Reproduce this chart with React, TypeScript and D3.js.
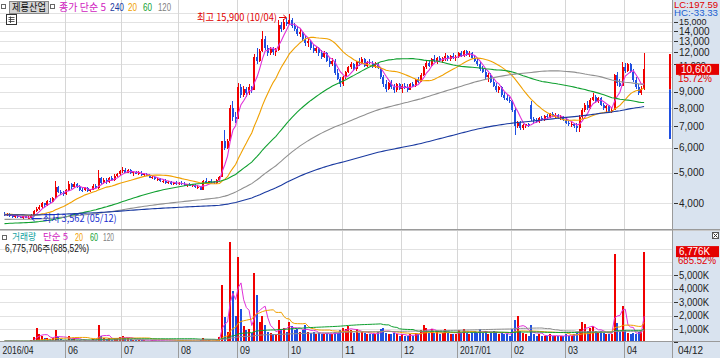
import React from "react";
import * as d3 from "d3";

type Bar = [number, number, number, number, number]; // open, high, low, close, volume (K shares)

const apr2016: Bar[] = [
  [3700,3750,3650,3680,120],[3680,3720,3640,3700,90],[3700,3720,3620,3650,80],
];
const may2016: Bar[] = [
  [3650,3700,3600,3620,70],[3620,3680,3600,3660,60],[3660,3690,3610,3630,80],[3630,3660,3590,3610,60],
  [3610,3650,3580,3640,70],[3640,3660,3590,3600,60],[3600,3640,3562,3610,90],[3610,3700,3600,3690,150],
  [3690,3800,3680,3780,400],[3780,3900,3750,3850,1100],[3850,3950,3800,3900,600],[3900,4050,3880,4000,500],
  [4000,4020,3900,3950,300],[3950,4100,3930,4080,350],[4080,4150,4000,4050,250],[4050,4200,4030,4150,300],
  [4150,4720,4150,4500,900],[4500,4550,4300,4350,400],[4350,4400,4250,4300,250],[4300,4380,4220,4280,200],
];
const jun2016: Bar[] = [
  [4280,4450,4250,4400,200],[4400,4700,4380,4600,500],[4600,4650,4450,4500,250],[4500,4680,4480,4620,300],
  [4620,4650,4480,4520,200],[4520,4560,4380,4420,150],[4420,4480,4350,4400,120],[4400,4500,4380,4480,150],
  [4480,4500,4350,4380,130],[4380,4450,4340,4420,120],[4420,4600,4400,4550,250],[4550,4620,4450,4480,200],
  [4480,5100,4450,4800,1300],[4800,4850,4600,4650,500],[4650,4800,4620,4750,300],[4750,4800,4620,4680,250],
  [4680,4850,4650,4800,300],[4800,4880,4700,4750,200],[4750,4950,4720,4900,350],[4900,5000,4850,4950,300],
  [4950,5100,4900,5050,400],
];
const jul2016: Bar[] = [
  [5050,5200,5000,5100,500],[5100,5180,4980,5000,300],[5000,5150,4980,5100,350],[5100,5120,4950,4980,250],
  [4980,5050,4900,5020,200],[5020,5080,4950,4960,180],[4960,5050,4930,5000,200],[5000,5060,4900,4920,150],
  [4920,4980,4850,4950,160],[4950,5000,4880,4900,140],[4900,4950,4800,4820,130],[4820,4900,4780,4850,150],
  [4850,4880,4750,4770,120],[4770,4820,4700,4780,130],[4780,4800,4680,4700,110],[4700,4780,4650,4720,120],
  [4720,4760,4620,4650,100],[4650,4720,4600,4680,130],[4680,4700,4580,4620,110],[4620,4680,4580,4650,100],
  [4650,4700,4560,4600,120],
];
const aug2016: Bar[] = [
  [4600,4680,4570,4640,100],[4640,4700,4580,4600,110],[4600,4660,4540,4560,90],[4560,4620,4520,4600,100],
  [4600,4640,4530,4550,90],[4550,4620,4500,4580,100],[4580,4600,4480,4500,80],[4500,4560,4450,4520,90],
  [4520,4540,4400,4420,150],[4420,4750,4420,4700,300],[4700,4800,4620,4650,200],[4650,4720,4600,4700,150],
  [4700,4760,4640,4680,130],[4680,4720,4600,4640,120],[4640,4780,4620,4750,200],[4750,4900,4700,4850,400],
  [4850,6300,4850,6300,4300],[6300,6800,5900,6000,1900],[6000,6400,5950,6300,800],[6300,8190,6300,8000,7500],
  [8000,8400,7300,7500,3800],[7500,7800,7200,7400,2000],
];
const sep2016: Bar[] = [
  [7400,9600,7400,9300,6400],[9300,9500,8600,8800,2500],[8800,9400,8700,9200,1200],[9200,9300,8700,8900,900],
  [8900,9500,8800,9300,1000],[9300,9400,8900,9100,700],[9100,11830,9100,11600,5150],[11600,12400,11000,11300,3540],
  [11300,12300,11200,12100,1500],[12100,14000,12000,13200,2000],[13200,13500,12200,12400,1300],[12400,12700,11700,11900,800],
  [11900,12500,11800,12300,700],[12300,12500,11800,12000,600],[12000,12400,11700,12200,600],[12200,15200,12100,14600,1700],
  [14600,15000,13900,14200,1000],[14200,15300,14100,15000,1100],[15000,15400,14500,14700,800],
];
const oct2016: Bar[] = [
  [14700,15900,14600,15200,1500],[15200,15400,14300,14500,1200],[14500,14900,14000,14200,900],[14200,14500,13500,13700,1000],
  [13700,14200,13400,13900,800],[13900,14000,13000,13200,900],[13200,13500,12600,12800,1300],[12800,13300,12500,13000,800],
  [13000,13100,12200,12400,700],[12400,12700,11900,12100,800],[12100,12600,11900,12400,650],[12400,12500,11700,11900,700],
  [11900,12200,11400,11600,600],[11600,12100,11500,11900,650],[11900,12000,11200,11300,700],[11300,11600,10800,11000,600],
  [11000,11500,10900,11300,650],[11300,11400,10200,10300,750],[10300,10600,9800,9900,700],[9900,10000,9300,9500,900],
];
const nov2016: Bar[] = [
  [9500,10100,9400,10000,1100],[10000,10500,9900,10400,1000],[10400,10900,10300,10800,1200],[10800,11200,10600,11000,900],
  [11000,11100,10500,10600,700],[10600,11300,10500,11200,1000],[11200,11500,10900,11100,700],[11100,11600,11000,11400,800],
  [11400,11500,10800,10900,700],[10900,11300,10800,11200,650],[11200,11400,11000,11100,600],[11100,11300,10700,10800,650],
  [10800,11200,10700,11000,600],[11000,11100,10600,10700,800],[10700,10800,9900,10000,1000],[10000,10200,9300,9500,1100],
  [9500,9800,9000,9200,700],[9200,9700,9100,9600,650],[9600,9800,9200,9300,600],[9300,9500,8900,9100,700],
  [9100,9600,9000,9500,600],[9500,9600,9100,9200,500],
];
const dec2016: Bar[] = [
  [9200,9500,8900,9400,600],[9400,9600,9200,9300,500],[9300,9500,9000,9100,450],[9100,9600,9100,9500,600],
  [9500,9700,9300,9400,500],[9400,9900,9300,9800,700],[9800,10000,9600,9700,600],[9700,10300,9700,10200,900],
  [10200,10900,10100,10800,1300],[10800,11300,10600,11100,1100],[11100,11300,10800,10900,700],[10900,11500,10800,11400,1000],
  [11400,11800,11200,11300,700],[11300,11600,11000,11500,850],[11500,11700,11200,11300,650],[11300,11600,11100,11500,700],
  [11500,11900,11300,11700,1000],[11700,11800,11300,11400,700],[11400,11800,11300,11700,650],[11700,11900,11400,11500,600],
  [11500,11800,11300,11600,650],
];
const jan2017: Bar[] = [
  [11600,12000,11500,11900,900],[11900,12100,11600,11700,700],[11700,12200,11600,12100,1000],[12100,12200,11700,11800,700],
  [11800,12100,11600,11900,650],[11900,12000,11400,11500,700],[11500,11800,11200,11300,850],[11300,11500,10900,11000,700],
  [11000,11200,10500,10600,1000],[10600,10900,10300,10400,700],[10400,10600,9900,10000,850],[10000,10300,9700,10200,650],
  [10200,10300,9600,9700,700],[9700,9900,9300,9400,850],[9400,9600,9000,9100,800],[9100,9400,8900,9300,600],
  [9300,9400,8700,8800,700],[8800,9000,8500,8600,650],[8600,8800,8400,8500,600],[8500,8700,8300,8400,500],
];
const feb2017: Bar[] = [
  [8400,8500,7800,7900,1000],[7900,8000,6600,7000,1700],[7000,7300,6900,7200,2000],[7200,7300,6800,6900,850],
  [6900,7100,6800,7050,700],[7050,7150,6900,7100,600],[7100,7200,6950,7000,500],[8200,8400,7300,7400,1300],
  [7400,7500,7150,7350,600],[7350,7450,7200,7250,500],[7250,7500,7200,7450,600],[7450,7550,7300,7350,450],
  [7350,7600,7300,7550,500],[7550,7650,7400,7500,450],[7500,7700,7450,7650,600],[7650,7750,7500,7550,450],
  [7550,7700,7450,7600,500],[7600,7650,7400,7450,450],[7450,7600,7350,7500,450],[7500,7550,7300,7350,500],
];
const mar2017: Bar[] = [
  [7350,7450,7100,7200,600],[7200,7300,7000,7100,500],[7100,7250,6950,7150,450],[7150,7200,6900,7000,600],
  [7000,7200,6700,6900,700],[6900,7600,6700,7500,1000],[7500,8000,7400,7900,1500],[7900,8300,7800,8200,1400],
  [8200,8400,7900,8000,850],[8000,8600,7950,8500,1100],[8500,8900,8400,8700,1200],[8700,8800,8300,8400,850],
  [8400,8700,8300,8600,700],[8600,8700,8100,8200,850],[8200,8300,7900,8000,700],[8000,8200,7800,8100,600],
  [8100,8200,7750,7800,650],[7800,8000,7700,7900,600],[7900,10270,7900,10200,6570],[10200,10400,9400,9600,1430],
  [9600,9900,9300,9400,800],[9400,11200,9400,10800,2700],
];
const apr2017: Bar[] = [
  [10800,11100,10300,10500,900],[10500,11100,10400,11000,700],[11000,11100,10300,10400,600],[10400,10600,9700,9800,700],
  [9800,10000,9200,9300,600],[9300,9500,8800,8900,800],[8900,9400,8800,9160,863],[9200,11900,9100,10600,6776],
];

const months: Bar[][] = [apr2016, may2016, jun2016, jul2016, aug2016, sep2016, oct2016, nov2016, dec2016, jan2017, feb2017, mar2017, apr2017];
const monthLabels = ["2016/04", "05", "06", "07", "08", "09", "10", "11", "12", "2017/01", "02", "03", "04"];
const monthShown = [true, false, true, true, true, true, true, true, true, true, true, true, true];

const priceTicks = [4000, 5000, 6000, 7000, 8000, 9000, 11000, 12000, 13000, 14000, 15000];
const priceGrid = [4000, 5000, 6000, 7000, 8000, 9000, 10000, 11000, 12000, 13000, 14000, 15000, 16000];
const volumeTicks = [1000, 2000, 3000, 4000, 5000];
const volumeGrid = [1000, 2000, 3000, 4000, 5000, 6000, 7000];

const priceMaPeriods = [5, 20, 60, 120, 240];
const priceMaColors = ["#e030d8", "#f0a000", "#10a030", "#909090", "#1a3aa0"];
const priceMaSeeds = [3690, 3700, 3450, 3560, 3680];
const volumeMaPeriods = [5, 20, 60, 120];
const volumeMaColors = ["#e030d8", "#f0a000", "#10a030", "#909090"];
const volumeMaSeeds = [80, 90, 100, 110];

const lastClose = 10600;
const changePct = "15.72%";
const lastVolumeLabel = "6,776K";
const volumePct = "685.52%";
const highNote = "최고 15,900 (10/04)";
const lowNote = "최저 3,562 (05/12)";
const rangeMarker = [11850, 9160, 6390];

const UP = "#f00000";
const DOWN = "#1f4fe0";
const PANEL_BG = "#d9e3ef";

function movingAverage(values: number[], n: number, seed: number): number[] {
  return values.map((_, i) => {
    let s = 0;
    for (let k = i - n + 1; k <= i; k++) s += k >= 0 ? values[k] : seed;
    return s / n;
  });
}

export default function App() {
  const W = 720, H = 358;
  const plotRight = 672;
  const priceTop = 0, priceBottom = 229;
  const volTop = 231, volBottom = 341;

  const candles: Bar[] = months.flat();
  const closes = candles.map((d) => d[3]);
  const vols = candles.map((d) => d[4]);
  const n = candles.length;

  const x = d3.scaleLinear().domain([0, n - 1]).range([4.5, 644.1]);
  const y = d3.scaleLog().domain([3321, 17555]).range([priceBottom, priceTop]);
  const yv = d3.scaleLinear().domain([0, 7000]).range([342.4, 248.6]);

  const monthStarts: number[] = [];
  let acc = 0;
  months.forEach((m) => { monthStarts.push(acc); acc += m.length; });

  const priceLine = d3.line<number>().x((_, i) => x(i)).y((v) => y(v));
  const volLine = d3.line<number>().x((_, i) => x(i)).y((v) => yv(v));

  const bw = 2;
  const fontNum = '"Liberation Sans", Arial, sans-serif';
  const fontKr = '"Noto Sans CJK KR", "Noto Sans", sans-serif';
  const fmt = d3.format(",");
  const labelLen = (s: string) => (s.length > 5 ? 31 : s.length > 2 ? 25 : 10);

  return (
    <div style={{ position: "absolute", left: 0, top: 0, width: W, height: H, background: "#fff" }}>
      <svg width={W} height={H} style={{ display: "block" }}>
        <defs>
          <clipPath id="pclip"><rect x={0} y={priceTop} width={plotRight} height={priceBottom - priceTop} /></clipPath>
          <clipPath id="vclip"><rect x={0} y={volTop} width={plotRight} height={volBottom - volTop} /></clipPath>
        </defs>
        <rect x={0} y={0} width={W} height={H} fill="#fff" />
        <rect x={plotRight} y={0} width={W - plotRight} height={H} fill={PANEL_BG} />
        <rect x={0} y={volBottom} width={W} height={H - volBottom} fill={PANEL_BG} />

        {priceGrid.map((p) => (
          <line key={"pg" + p} x1={0} x2={plotRight} y1={Math.round(y(p)) + 0.5} y2={Math.round(y(p)) + 0.5} stroke="#e2e2e2" />
        ))}
        {volumeGrid.map((v) => (
          <line key={"vg" + v} x1={0} x2={plotRight} y1={Math.round(yv(v)) + 0.5} y2={Math.round(yv(v)) + 0.5} stroke="#e2e2e2" />
        ))}
        {monthStarts.map((s, i) => (i > 1 ? (
          <line key={"mg" + i} x1={Math.round(x(s) - 1.3) + 0.5} x2={Math.round(x(s) - 1.3) + 0.5} y1={0} y2={volBottom} stroke="#d6d6d6" />
        ) : null))}

        <g clipPath="url(#pclip)" shapeRendering="crispEdges">
          {candles.map((d, i) => {
            const [o, h, l, c] = d;
            const col = c >= o ? UP : DOWN;
            const cx = x(i);
            const top = y(Math.max(o, c));
            const bot = y(Math.min(o, c));
            return (
              <g key={"c" + i}>
                <line x1={cx} x2={cx} y1={y(h)} y2={y(l)} stroke={col} strokeWidth={1} />
                <rect x={cx - bw / 2} y={top} width={bw} height={Math.max(1, bot - top)} fill={col} />
              </g>
            );
          })}
        </g>
        <g clipPath="url(#pclip)">
          {priceMaPeriods.map((p, k) => (
            <path key={"ma" + p} d={priceLine(movingAverage(closes, p, priceMaSeeds[k])) || ""} fill="none" stroke={priceMaColors[k]} strokeWidth={1.1} />
          ))}
        </g>

        <g clipPath="url(#vclip)" shapeRendering="crispEdges">
          {candles.map((d, i) => (
            <rect key={"v" + i} x={x(i) - bw / 2} y={yv(d[4])} width={bw} height={yv(0) - yv(d[4])} fill={d[3] >= d[0] ? UP : DOWN} />
          ))}
        </g>
        <g clipPath="url(#vclip)">
          {volumeMaPeriods.map((p, k) => (
            <path key={"vma" + p} d={volLine(movingAverage(vols, p, volumeMaSeeds[k])) || ""} fill="none" stroke={volumeMaColors[k]} strokeWidth={1} />
          ))}
        </g>

        <line x1={0} x2={W} y1={priceBottom + 0.5} y2={priceBottom + 0.5} stroke="#9a9a9a" />
        <line x1={0} x2={W} y1={volTop - 0.5} y2={volTop - 0.5} stroke="#c8c8c8" />
        <line x1={0} x2={W} y1={volBottom + 0.5} y2={volBottom + 0.5} stroke="#9a9a9a" />
        <line x1={plotRight + 0.5} x2={plotRight + 0.5} y1={0} y2={volBottom} stroke="#9a9a9a" />

        <line x1={670} x2={670} y1={y(rangeMarker[0])} y2={y(rangeMarker[1])} stroke={UP} strokeWidth={2} />
        <line x1={670} x2={670} y1={y(rangeMarker[1])} y2={y(rangeMarker[2])} stroke={DOWN} strokeWidth={2} />

        {/* price axis */}
        {priceTicks.map((p) => (
          <g key={"pt" + p}>
            <line x1={674} x2={678} y1={Math.round(y(p)) + 0.5} y2={Math.round(y(p)) + 0.5} stroke="#333" />
            <text x={679} y={y(p)} dy="0.36em" fontFamily={fontNum} fontSize={p === 11000 || p === 15000 ? 9 : 10} fill="#222">{fmt(p)}</text>
          </g>
        ))}
        <rect x={676} y={y(lastClose) - 5.5} width={43} height={11} fill="#e40000" />
        <text x={681} y={y(lastClose) + 0.5} dy="0.36em" fontFamily={fontNum} fontSize={10} fill="#fff">{fmt(lastClose)}</text>
        <text x={678} y={y(lastClose) + 9.5} dy="0.36em" fontFamily={fontNum} fontSize={10} fill="#e00000">{changePct}</text>
        <text x={674} y={4.5} dy="0.36em" fontFamily={fontNum} fontSize={9} fill="#e00000" textLength={44} lengthAdjust="spacingAndGlyphs">LC:197.59</text>
        <text x={674} y={13} dy="0.36em" fontFamily={fontNum} fontSize={9} fill="#1a5fd0" textLength={44} lengthAdjust="spacingAndGlyphs">HC:-33.33</text>

        {/* volume axis */}
        {volumeTicks.map((v) => (
          <g key={"vt" + v}>
            <line x1={674} x2={678} y1={Math.round(yv(v)) + 0.5} y2={Math.round(yv(v)) + 0.5} stroke="#333" />
            <text x={679} y={yv(v)} dy="0.36em" fontFamily={fontNum} fontSize={10} fill="#222" textLength={30} lengthAdjust="spacingAndGlyphs">{fmt(v) + "K"}</text>
          </g>
        ))}
        <line x1={674} x2={678} y1={Math.round(yv(0)) + 0.5} y2={Math.round(yv(0)) + 0.5} stroke="#333" />
        <rect x={676} y={yv(vols[n - 1]) - 5.5} width={43} height={11} fill="#e40000" />
        <text x={679} y={yv(vols[n - 1])} dy="0.36em" fontFamily={fontNum} fontSize={10} fill="#fff" textLength={31} lengthAdjust="spacingAndGlyphs">{lastVolumeLabel}</text>
        <text x={678} y={yv(vols[n - 1]) + 9} dy="0.36em" fontFamily={fontNum} fontSize={10} fill="#e00000" textLength={38} lengthAdjust="spacingAndGlyphs">{volumePct}</text>
        <rect x={712.5} y={232.5} width={6} height={6} fill="#fff" stroke="#555" />
        <path d="M713.5,233.5 L717.5,237.5 M717.5,233.5 L713.5,237.5" stroke="#333" />

        {/* date axis */}
        {monthStarts.map((s, i) => {
          if (!monthShown[i]) return null;
          const gx = i === 0 ? 0 : Math.round(x(s) - 1.3) + 0.5;
          return (
            <g key={"ml" + i}>
              {i > 0 && <line x1={gx} x2={gx} y1={volBottom} y2={H} stroke="#9a9a9a" />}
              <text x={gx + 2.5} y={350} dy="0.36em" fontFamily={fontNum} fontSize={10.5} fill="#222" textLength={labelLen(monthLabels[i])} lengthAdjust="spacingAndGlyphs">{monthLabels[i]}</text>
            </g>
          );
        })}
        <line x1={plotRight + 0.5} x2={plotRight + 0.5} y1={volBottom} y2={H} stroke="#9a9a9a" />
        <text x={678} y={350} dy="0.36em" fontFamily={fontNum} fontSize={10.5} fill="#222" textLength={25} lengthAdjust="spacingAndGlyphs">04/12</text>

        {/* annotations */}
        <text x={197} y={17} dy="0.36em" fontFamily={fontKr} fontSize={10} fill="#e00000" textLength={80} lengthAdjust="spacingAndGlyphs">{highNote}</text>
        <path d={`M279,17.5 L${x(106) - 3},17.5`} stroke="#e00000" />
        <path d={`M${x(106) - 6},15 L${x(106) - 3},17.5 L${x(106) - 6},20`} fill="none" stroke="#e00000" />
        <path d={`M${x(9) + 3},218.5 L${x(9) + 13},218.5`} stroke="#1a2fd0" />
        <path d={`M${x(9) + 6},216 L${x(9) + 3},218.5 L${x(9) + 6},221`} fill="none" stroke="#1a2fd0" />
        <text x={x(9) + 14} y={218} dy="0.36em" fontFamily={fontKr} fontSize={10} fill="#1a2fd0" textLength={74} lengthAdjust="spacingAndGlyphs">{lowNote}</text>

        {/* top legend */}
        <rect x={1.5} y={4.5} width={4} height={4} fill="#fff" stroke="#666" />
        <rect x={9.5} y={1.5} width={39} height={12} fill="#d4d4d4" stroke="#888" />
        <text x={12} y={7.5} dy="0.36em" fontFamily={fontKr} fontSize={10} fill="#111" textLength={34} lengthAdjust="spacingAndGlyphs">제룡산업</text>
        <rect x={50.5} y={4.5} width={4} height={4} fill="#fff" stroke="#666" />
        <text x={59} y={7.5} dy="0.36em" fontFamily={fontKr} fontSize={10} fill="#d020c0" textLength={47} lengthAdjust="spacingAndGlyphs">종가 단순 5</text>
        <text x={110} y={7.5} dy="0.36em" fontFamily={fontNum} fontSize={10} fill="#1a3aa0" textLength={14} lengthAdjust="spacingAndGlyphs">240</text>
        <text x={128} y={7.5} dy="0.36em" fontFamily={fontNum} fontSize={10} fill="#f0a000" textLength={9} lengthAdjust="spacingAndGlyphs">20</text>
        <text x={143} y={7.5} dy="0.36em" fontFamily={fontNum} fontSize={10} fill="#10a030" textLength={9} lengthAdjust="spacingAndGlyphs">60</text>
        <text x={158} y={7.5} dy="0.36em" fontFamily={fontNum} fontSize={10} fill="#808080" textLength={13} lengthAdjust="spacingAndGlyphs">120</text>
        <rect x={6.5} y={14.5} width={10} height={10} fill="#fff" stroke="#333" />
        <path d="M8.5,17.5 H14.5 M8.5,19.5 H14.5 M8.5,21.5 H14.5 M10.5,16.5 V23" stroke="#333" strokeWidth={0.8} />

        {/* volume legend */}
        <rect x={2.5} y={235.5} width={4} height={4} fill="#fff" stroke="#666" />
        <text x={12} y={237} dy="0.36em" fontFamily={fontKr} fontSize={9.5} fill="#10a0a0" textLength={24} lengthAdjust="spacingAndGlyphs">거래량</text>
        <text x={43} y={237} dy="0.36em" fontFamily={fontKr} fontSize={9.5} fill="#d020c0" textLength={25} lengthAdjust="spacingAndGlyphs">단순 5</text>
        <text x={75} y={237} dy="0.36em" fontFamily={fontNum} fontSize={10} fill="#f0a000" textLength={8} lengthAdjust="spacingAndGlyphs">20</text>
        <text x={90} y={237} dy="0.36em" fontFamily={fontNum} fontSize={10} fill="#10a030" textLength={8} lengthAdjust="spacingAndGlyphs">60</text>
        <text x={103} y={237} dy="0.36em" fontFamily={fontNum} fontSize={10} fill="#808080" textLength={11} lengthAdjust="spacingAndGlyphs">120</text>
        <text x={5} y={248} dy="0.36em" fontFamily={fontNum} fontSize={10} fill="#111" textLength={84} lengthAdjust="spacingAndGlyphs">6,775,706주(685,52%)</text>
      </svg>
    </div>
  );
}
